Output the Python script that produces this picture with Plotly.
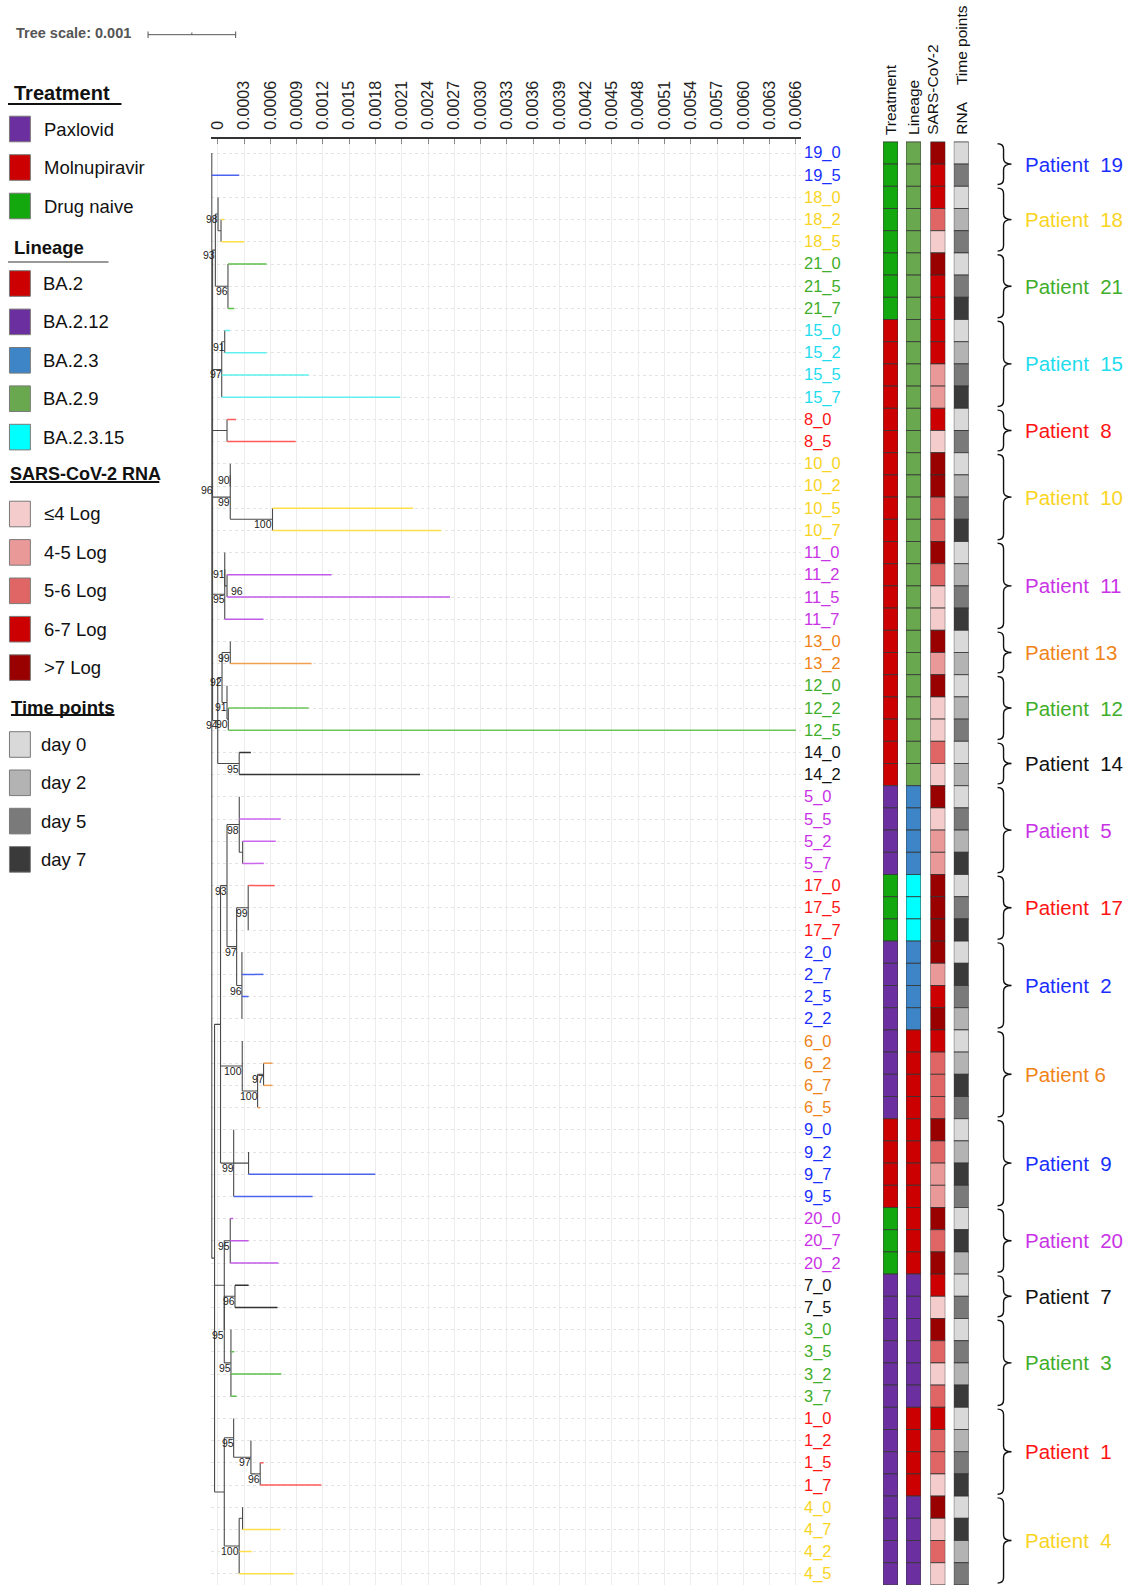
import plotly.graph_objects as go

W, H = 1132, 1585
FONT = "Liberation Sans, Arial, sans-serif"

# ---------------- data ----------------
TREE_NEWICK = (
    "(19_0:0,19_5:0.000314,"
    # upper block (node 96)
    "("
    "((18_0:0,(18_2:0.0000375,18_5:0.000265):0.0000341)98:0.0000307,"
    "(21_0:0.00044,21_5:0,21_7:0.0000716)96:0.000144)93:0.0000318,"
    "((15_0:0.0000602,15_2:0.000477)91:0.0000341,15_5:0.000992,15_7:0.002038)97:0.0001045,"
    "(8_0:0.000102,8_5:0.000784):0.000165,"
    "((10_0:0,10_2:0)90:0,(10_5:0.001606,10_7:0.001924)100:0.000482)99:0.000202,"
    "((11_0:0,(11_2:0.001193,11_5:0.002545)96:0.0000261)91:0,11_7:0.000443)95:0.000139,"
    "("
    "((13_0:0,13_2:0.000928)99:0.0000943,(12_0:0,(12_2:0.000917,12_5:0.00648)90:0.0000148)91:0.0000568)92:0.0000489,"
    "(14_0:0.000133,14_2:0.002065)95:0.000245"
    ")94:0.0000591"
    ")96:0.0000091,"
    # lower block
    "("
    "("
    "((5_0:0,5_5:0.000474,(5_2:0.000378,5_7:0.000242):0.0000386)98:0.00014,"
    "((17_0:0.000303,17_5:0,17_7:0)99:0.000132,(2_0:0,2_7:0.000247,2_5:0.0000761,2_2:0)96:0.0000602)97:0.00011)93:0.0000739,"
    "(6_0:0,((6_2:0.000102,6_7:0.000102)97:0.0000682,6_5:0.0000307)100:0.000175)100:0.000248,"
    "(9_0:0,(9_2:0,9_7:0.001447):0.00017,9_5:0.000901)99:0.00015"
    "):0.0000682,"
    "("
    "(20_0:0.0000341,20_7:0.000209,20_2:0.00055)95:0.0000682,"
    "((7_0:0.000156,7_5:0.000485)96:0.000122,(3_0:0,3_5:0.0000375,3_2:0.000576,3_7:0.0000648)95:0.0000761)95:0"
    "):0.000111,"
    "("
    "(1_0:0,(1_2:0,(1_5:0.0000386,1_7:0.000698)96:0.000106)97:0.000197)95:0.000107,"
    "((4_0:0,4_7:0.000435):0.0000386,4_2:0.000144,4_5:0.000625)100:0.00017"
    "):0.000111"
    "):0.0000318"
    ");"
)
ROOT_X = -0.0000682

TICK_LABELS = ["0", "0.0003", "0.0006", "0.0009", "0.0012", "0.0015", "0.0018", "0.0021",
               "0.0024", "0.0027", "0.0030", "0.0033", "0.0036", "0.0039", "0.0042", "0.0045",
               "0.0048", "0.0051", "0.0054", "0.0057", "0.0060", "0.0063", "0.0066"]
MAJOR_GRID = ["0.0006", "0.0012", "0.0018", "0.0024", "0.0030", "0.0036", "0.0042",
              "0.0048", "0.0054", "0.0060", "0.0066"]

PATIENTS = [19, 18, 21, 15, 8, 10, 11, 13, 12, 14, 5, 17, 2, 6, 9, 20, 7, 3, 1, 4]
PATIENT_NAMES = ["Patient\u00a0 19", "Patient\u00a0 18", "Patient\u00a0 21", "Patient\u00a0 15",
                 "Patient\u00a0 8", "Patient\u00a0 10", "Patient\u00a0 11", "Patient 13",
                 "Patient\u00a0 12", "Patient\u00a0 14", "Patient\u00a0 5", "Patient\u00a0 17",
                 "Patient\u00a0 2", "Patient 6", "Patient\u00a0 9", "Patient\u00a0 20",
                 "Patient\u00a0 7", "Patient\u00a0 3", "Patient\u00a0 1", "Patient\u00a0 4"]
PATIENT_TEXT_COLORS = ["#1a2eff", "#f9d423", "#3fae2a", "#1fdcee", "#ff1414", "#f9d423",
                       "#c933e6", "#f08418", "#3fae2a", "#111111", "#c933e6", "#ff1414",
                       "#1a2eff", "#f08418", "#1a2eff", "#c933e6", "#111111", "#3fae2a",
                       "#ff1414", "#f9d423"]
PATIENT_BRANCH_COLORS = ["#4a64f0", "#ffe04a", "#5cc04a", "#5ff0f0", "#ff5a5a", "#ffe04a",
                         "#c25ae8", "#f0a050", "#6cc45a", "#333333", "#cc66ee", "#ff5a5a",
                         "#4a64f0", "#f0a050", "#4a64f0", "#c25ae8", "#333333", "#5cc04a",
                         "#ff5a5a", "#ffe04a"]
PATIENT_TREATMENT = ["Drug naive", "Drug naive", "Drug naive", "Molnupiravir", "Molnupiravir",
                     "Molnupiravir", "Molnupiravir", "Molnupiravir", "Molnupiravir", "Molnupiravir",
                     "Paxlovid", "Drug naive", "Paxlovid", "Paxlovid", "Molnupiravir", "Drug naive",
                     "Paxlovid", "Paxlovid", "Paxlovid", "Paxlovid"]
PATIENT_LINEAGE = ["BA.2.9", "BA.2.9", "BA.2.9", "BA.2.9", "BA.2.9", "BA.2.9", "BA.2.9",
                   "BA.2.9", "BA.2.9", "BA.2.9", "BA.2.3", "BA.2.3.15", "BA.2.3", "BA.2",
                   "BA.2", "BA.2", "BA.2.12", "BA.2.12", "BA.2", "BA.2.12"]

# per leaf (tree order)
RNA_LEVEL = [">7 Log", "6-7 Log", "6-7 Log", "5-6 Log", "≤4 Log", ">7 Log", "6-7 Log", "6-7 Log",
             "6-7 Log", "6-7 Log", "4-5 Log", "4-5 Log", "6-7 Log", "≤4 Log", ">7 Log", ">7 Log",
             "5-6 Log", "5-6 Log", ">7 Log", "5-6 Log", "≤4 Log", "≤4 Log", ">7 Log", "4-5 Log",
             ">7 Log", "≤4 Log", "≤4 Log", "5-6 Log", "≤4 Log", ">7 Log", "≤4 Log", "4-5 Log",
             "4-5 Log", ">7 Log", ">7 Log", ">7 Log", ">7 Log", "4-5 Log", "6-7 Log", ">7 Log",
             "6-7 Log", "5-6 Log", "5-6 Log", "5-6 Log", ">7 Log", "5-6 Log", "4-5 Log", "4-5 Log",
             ">7 Log", "5-6 Log", ">7 Log", "6-7 Log", "≤4 Log", ">7 Log", "5-6 Log", "≤4 Log",
             "5-6 Log", "6-7 Log", "5-6 Log", "5-6 Log", "≤4 Log", ">7 Log", "≤4 Log", "5-6 Log",
             "≤4 Log"]
TIME_POINT = ["day 0", "day 5", "day 0", "day 2", "day 5", "day 0", "day 5", "day 7",
              "day 0", "day 2", "day 5", "day 7", "day 0", "day 5", "day 0", "day 2",
              "day 5", "day 7", "day 0", "day 2", "day 5", "day 7", "day 0", "day 2",
              "day 0", "day 2", "day 5", "day 0", "day 2", "day 0", "day 5", "day 2",
              "day 7", "day 0", "day 5", "day 7", "day 0", "day 7", "day 5", "day 2",
              "day 0", "day 2", "day 7", "day 5", "day 0", "day 2", "day 7", "day 5",
              "day 0", "day 7", "day 2", "day 0", "day 5", "day 0", "day 5", "day 2",
              "day 7", "day 0", "day 2", "day 5", "day 7", "day 0", "day 7", "day 2",
              "day 5"]

TREATMENT_COLORS = {"Paxlovid": "#6b2fa0", "Molnupiravir": "#cc0000", "Drug naive": "#13a80d"}
LINEAGE_COLORS = {"BA.2": "#cc0000", "BA.2.12": "#6b2fa0", "BA.2.3": "#3d85c6",
                  "BA.2.9": "#6aa84f", "BA.2.3.15": "#00ffff"}
RNA_COLORS = {"≤4 Log": "#f4cccc", "4-5 Log": "#ea9999", "5-6 Log": "#e06666",
              "6-7 Log": "#cc0000", ">7 Log": "#990000"}
TIME_COLORS = {"day 0": "#d9d9d9", "day 2": "#b3b3b3", "day 5": "#7a7a7a", "day 7": "#3a3a3a"}

COLUMN_HEADERS = ["Treatment", "Lineage", "SARS-CoV-2", "RNA\u00a0\u00a0\u00a0 Time points"]

# ---------------- tree parsing / layout ----------------
def parse_newick(s):
    pos = 0

    def node():
        nonlocal pos
        children = []
        if s[pos] == "(":
            pos += 1
            while True:
                children.append(node())
                if s[pos] == ",":
                    pos += 1
                    continue
                if s[pos] == ")":
                    pos += 1
                    break
        start = pos
        while s[pos] not in ":,);":
            pos += 1
        name = s[start:pos]
        length = 0.0
        if s[pos] == ":":
            pos += 1
            start = pos
            while s[pos] not in ",);":
                pos += 1
            length = float(s[start:pos])
        return {"name": name, "len": length, "children": children}

    return node()


tree = parse_newick(TREE_NEWICK)
leaves = []


def layout(n, x):
    n["x"] = x
    if not n["children"]:
        n["y"] = len(leaves)
        leaves.append(n)
        return
    for c in n["children"]:
        layout(c, x + c["len"])
    n["y"] = (n["children"][0]["y"] + n["children"][-1]["y"]) / 2.0


layout(tree, ROOT_X)
leaf_names = [l["name"] for l in leaves]
patient_of_leaf = [int(nm.split("_")[0]) for nm in leaf_names]
pidx = {p: i for i, p in enumerate(PATIENTS)}

int_x, int_y = [], []
leaf_segs = {}
boot = []


def collect(n):
    if not n["children"]:
        return
    ch = n["children"]
    int_x.extend([n["x"], n["x"], None])
    int_y.extend([ch[0]["y"], ch[-1]["y"], None])
    if n["name"]:
        boot.append((n["x"], n["y"], n["name"]))
    for c in ch:
        if c["children"]:
            int_x.extend([n["x"], c["x"], None])
            int_y.extend([c["y"], c["y"], None])
            collect(c)
        elif c["len"] > 0:
            col = PATIENT_BRANCH_COLORS[pidx[int(c["name"].split("_")[0])]]
            sx, sy = leaf_segs.setdefault(col, ([], []))
            sx.extend([n["x"], c["x"], None])
            sy.extend([c["y"], c["y"], None])


collect(tree)

# ---------------- geometry ----------------
X0_PX = 216.7        # pixel of value 0
PX_PER_UNIT = 88000.0
TREE_L, TREE_R = 210.0, 803.0
Y_TOP_PX, ROW0_PX, ROW_PX = 139.0, 153.0, 22.2
n_rows = len(leaves)
y_top_val = -(ROW0_PX - Y_TOP_PX) / ROW_PX
y_bot_val = (H - ROW0_PX) / ROW_PX
x_range = [(TREE_L - X0_PX) / PX_PER_UNIT, (TREE_R - X0_PX) / PX_PER_UNIT]
y_dom = [0, 1 - Y_TOP_PX / H]


def px(x):
    return x / W


def py(y):
    return 1 - y / H


fig = go.Figure()

fig.add_trace(go.Scatter(x=int_x, y=int_y, mode="lines", line=dict(color="#4a4a4a", width=1.1),
                         hoverinfo="skip", xaxis="x", yaxis="y"))
for col, (sx, sy) in leaf_segs.items():
    fig.add_trace(go.Scatter(x=sx, y=sy, mode="lines", line=dict(color=col, width=1.5),
                             hoverinfo="skip", xaxis="x", yaxis="y"))

# heatmap columns as bars
columns = [
    ([TREATMENT_COLORS[PATIENT_TREATMENT[pidx[p]]] for p in patient_of_leaf], 885, 900),
    ([LINEAGE_COLORS[PATIENT_LINEAGE[pidx[p]]] for p in patient_of_leaf], 908, 923),
    ([RNA_COLORS[v] for v in RNA_LEVEL], 932.5, 947.5),
    ([TIME_COLORS[v] for v in TIME_POINT], 956, 971),
]
rows = list(range(n_rows))
axis_ids = ["x3", "x4", "x5", "x6"]
for (colors, l, r), ax in zip(columns, axis_ids):
    fig.add_trace(go.Bar(x=[1] * n_rows, y=rows, base=0, orientation="h", width=1,
                         marker=dict(color=colors, line=dict(color="#333333", width=0.8)),
                         hoverinfo="skip", xaxis=ax, yaxis="y2"))

annotations = []
shapes = []

# bootstrap labels: right-aligned at the node, moved to the right side if they would collide
placed = []
for bx, by, txt in boot:
    nx = X0_PX + bx * PX_PER_UNIT
    ny = ROW0_PX + by * ROW_PX + 5
    w = 5.8 * len(txt)
    box = (nx + 2 - w, nx + 2, ny)
    clash = any(min(box[1], b[1]) - max(box[0], b[0]) > 3 and abs(box[2] - b[2]) < 10
                for b in placed)
    if clash:
        box = (nx + 2, nx + 2 + w, ny)
        anchor, shift = "left", 2
    else:
        anchor, shift = "right", 2
    placed.append(box)
    annotations.append(dict(x=bx, y=by, xref="x", yref="y", text=txt, showarrow=False,
                            xanchor=anchor, yanchor="middle", xshift=shift, yshift=-5,
                            font=dict(size=10.5, color="#222222", family=FONT)))

# leaf labels
for i, nm in enumerate(leaf_names):
    annotations.append(dict(x=px(804), y=i, xref="paper", yref="y2", text=nm, showarrow=False,
                            xanchor="left", yanchor="middle",
                            font=dict(size=16.5, color=PATIENT_TEXT_COLORS[pidx[patient_of_leaf[i]]],
                                      family=FONT)))

# column headers
for txt, (colors, l, r) in zip(COLUMN_HEADERS, columns):
    cx = (l + r) / 2
    if txt == "SARS-CoV-2":
        cx -= 6
    annotations.append(dict(x=px(cx), y=py(137), xref="paper", yref="paper", text=txt,
                            showarrow=False, textangle=-90, xanchor="center", yanchor="bottom",
                            font=dict(size=15.5, color="#111111", family=FONT)))

# braces and patient labels
d = 5.5 / ROW_PX
xl, xm, xt = px(1000), px(1006), px(1014)
for k, p in enumerate(PATIENTS):
    idxs = [i for i, q in enumerate(patient_of_leaf) if q == p]
    y0, y1 = idxs[0] - 0.42, idxs[-1] + 0.42
    ym = (idxs[0] + idxs[-1]) / 2
    path = (f"M{xl},{y0} Q{xm},{y0} {xm},{y0 + d} L{xm},{ym - d} Q{xm},{ym} {xt},{ym} "
            f"Q{xm},{ym} {xm},{ym + d} L{xm},{y1 - d} Q{xm},{y1} {xl},{y1}")
    shapes.append(dict(type="path", path=path, xref="paper", yref="y2",
                       line=dict(color="#111111", width=1.4)))
    annotations.append(dict(x=px(1026), y=ym, xref="paper", yref="y2", text=PATIENT_NAMES[k],
                            showarrow=False, xanchor="left", yanchor="middle",
                            font=dict(size=20.5, color=PATIENT_TEXT_COLORS[k], family=FONT)))

# tree scale
annotations.append(dict(x=px(12), y=py(33), xref="paper", yref="paper",
                        text="<b>Tree scale: 0.001</b>", showarrow=False, xanchor="left",
                        yanchor="middle", font=dict(size=14.5, color="#555555", family=FONT)))
sb0 = 146.7
sb1 = sb0 + 0.001 * PX_PER_UNIT
for seg in [(sb0, 34.7, sb1, 34.7), (sb0, 31.5, sb0, 38), (sb1, 31.5, sb1, 38),
            ((sb0 + sb1) / 2, 32.5, (sb0 + sb1) / 2, 34.7)]:
    shapes.append(dict(type="line", xref="paper", yref="paper", x0=px(seg[0]), y0=py(seg[1]),
                       x1=px(seg[2]), y1=py(seg[3]), line=dict(color="#555555", width=1)))

# legend blocks: title, title y, underline y, underline x0/x1, underline colour, items,
# first item y, step, item text x, title x, title size
legend_blocks = [
    ("Treatment", 93, 104, 6, 120, "#111111", list(TREATMENT_COLORS.items()), 129, 38.5, 40, 10, 20),
    ("Lineage", 247, 262, 6, 107, "#999999", list(LINEAGE_COLORS.items()), 283.5, 38.4, 39, 10, 18.5),
    ("SARS-CoV-2 RNA", 474, 482, 8, 158, "#111111", list(RNA_COLORS.items()), 514, 38.4, 40, 6, 18),
    ("Time points", 707, 715, 9, 113, "#111111", list(TIME_COLORS.items()), 744.5, 38.3, 37, 7, 18.5),
]
for title, ty, uy, ux0, ux1, ucol, items, y_first, step, tx, ttx, tsize in legend_blocks:
    annotations.append(dict(x=px(ttx), y=py(ty), xref="paper", yref="paper",
                            text=f"<b>{title}</b>", showarrow=False, xanchor="left",
                            yanchor="middle", font=dict(size=tsize, color="#111111", family=FONT)))
    shapes.append(dict(type="line", xref="paper", yref="paper", x0=px(ux0), x1=px(ux1),
                       y0=py(uy), y1=py(uy), line=dict(color=ucol, width=2)))
    for j, (lab, col) in enumerate(items):
        cy = y_first + j * step
        shapes.append(dict(type="rect", xref="paper", yref="paper", x0=px(7.5), x1=px(28.5),
                           y0=py(cy - 12.8), y1=py(cy + 12.8), fillcolor=col,
                           line=dict(color="#7a7a7a", width=1)))
        annotations.append(dict(x=px(tx), y=py(cy), xref="paper", yref="paper", text=lab,
                                showarrow=False, xanchor="left", yanchor="middle",
                                font=dict(size=18.5, color="#111111", family=FONT)))

tick_vals = [float(t) for t in TICK_LABELS]
major_vals = [float(t) for t in MAJOR_GRID]

bar_axes = {}
for (colors, l, r), ax in zip(columns, axis_ids):
    bar_axes["xaxis" + ax[1:]] = dict(domain=[px(l), px(r)], range=[0, 1], visible=False,
                                     anchor="y2", fixedrange=True)

fig.update_layout(
    width=W, height=H, margin=dict(l=0, r=0, t=0, b=0),
    paper_bgcolor="white", plot_bgcolor="rgba(0,0,0,0)", showlegend=False,
    font=dict(family=FONT),
    xaxis=dict(domain=[px(TREE_L), px(TREE_R)], range=x_range, side="top", anchor="y",
               tickmode="array", tickvals=tick_vals, ticktext=TICK_LABELS, tickangle=-90,
               ticks="inside", ticklen=5, tickcolor="#888888", showline=True,
               linecolor="#333333", linewidth=2, showgrid=True, gridcolor="#ededed",
               gridwidth=1, zeroline=False, ticklabelstandoff=4,
               tickfont=dict(size=16, color="#222222", family=FONT), fixedrange=True),
    xaxis2=dict(overlaying="x", matches="x", range=x_range, side="top", anchor="y",
                tickmode="array", tickvals=major_vals, showticklabels=False, ticks="",
                showgrid=True, gridcolor="#bfbfbf", gridwidth=1.5, showline=False,
                zeroline=False, fixedrange=True),
    yaxis=dict(domain=y_dom, range=[y_bot_val, y_top_val], anchor="x", showgrid=True,
               tickmode="linear", tick0=0, dtick=1, gridcolor="#e4e4e4", griddash="dot",
               gridwidth=1, showticklabels=False, ticks="", zeroline=False, showline=False,
               fixedrange=True),
    yaxis2=dict(domain=y_dom, range=[y_bot_val, y_top_val], anchor="x3", visible=False,
                fixedrange=True),
    annotations=annotations,
    shapes=shapes,
    **bar_axes,
)

fig.write_html("out.html", config={"displayModeBar": False, "staticPlot": True},
               post_script="document.body.style.margin='0px';")
